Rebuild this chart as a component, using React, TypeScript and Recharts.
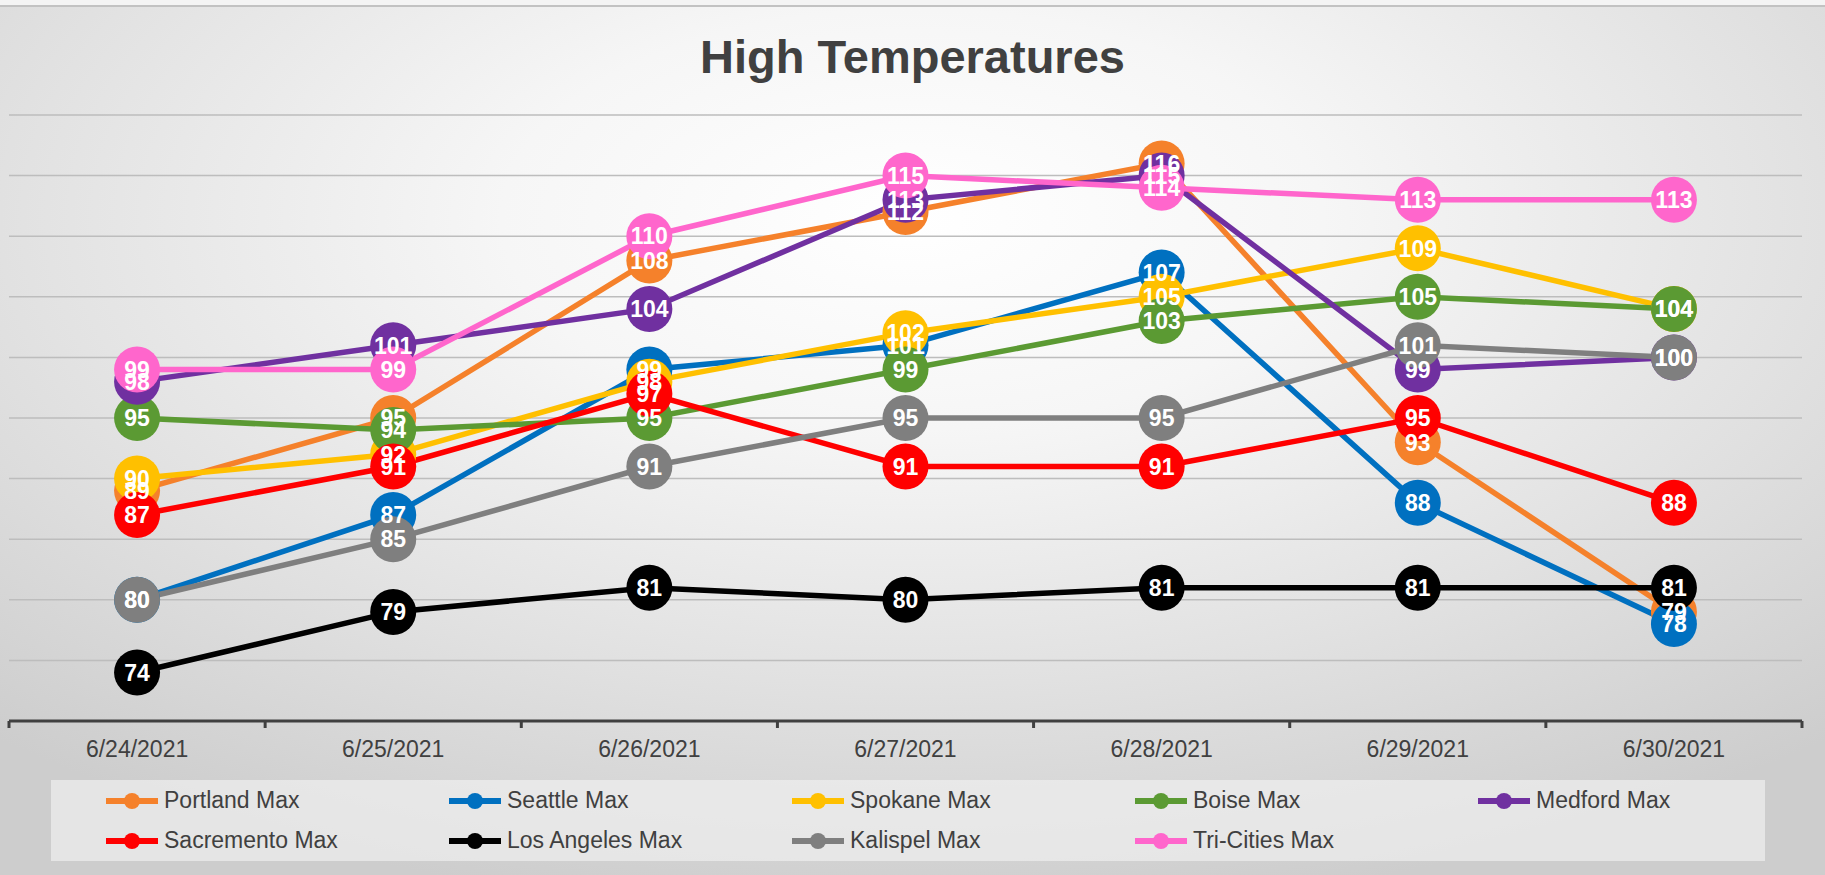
import React from 'react';
import { LineChart, Line, XAxis, YAxis, CartesianGrid, LabelList, Legend } from 'recharts';

const DATES = ['6/24/2021', '6/25/2021', '6/26/2021', '6/27/2021', '6/28/2021', '6/29/2021', '6/30/2021'];
const PORTLAND = [89, 95, 108, 112, 116, 93, 79];
const SEATTLE = [80, 87, 99, 101, 107, 88, 78];
const SPOKANE = [90, 92, 98, 102, 105, 109, 104];
const BOISE = [95, 94, 95, 99, 103, 105, 104];
const MEDFORD = [98, 101, 104, 113, 115, 99, 100];
const SACRAMENTO = [87, 91, 97, 91, 91, 95, 88];
const LOS_ANGELES = [74, 79, 81, 80, 81, 81, 81];
const KALISPEL = [80, 85, 91, 95, 95, 101, 100];
const TRI_CITIES = [99, 99, 110, 115, 114, 113, 113];
const Y_TICKS = [70, 75, 80, 85, 90, 95, 100, 105, 110, 115, 120];
const CENTER_TICKS = [0, 1, 2, 3, 4, 5, 6];
const EDGE_TICKS = [-0.5, 0.5, 1.5, 2.5, 3.5, 4.5, 5.5, 6.5];

const SERIES = [
  { key: 'portland', name: 'Portland Max', color: '#F5812B', values: PORTLAND },
  { key: 'seattle', name: 'Seattle Max', color: '#0070C0', values: SEATTLE },
  { key: 'spokane', name: 'Spokane Max', color: '#FFC000', values: SPOKANE },
  { key: 'boise', name: 'Boise Max', color: '#5B9A33', values: BOISE },
  { key: 'medford', name: 'Medford Max', color: '#7030A0', values: MEDFORD },
  { key: 'sacramento', name: 'Sacremento Max', color: '#FF0000', values: SACRAMENTO },
  { key: 'la', name: 'Los Angeles Max', color: '#000000', values: LOS_ANGELES },
  { key: 'kalispel', name: 'Kalispel Max', color: '#7F7F7F', values: KALISPEL },
  { key: 'tricities', name: 'Tri-Cities Max', color: '#FF66CC', values: TRI_CITIES },
];

const DATA = DATES.map((d, i) => {
  const row: Record<string, any> = { idx: i, date: d };
  SERIES.forEach((s) => {
    row[s.key] = s.values[i];
  });
  return row;
});

const FONT = '"Liberation Sans", Arial, sans-serif';

const renderLabel = (p: any) => (
  <text
    x={p.x}
    y={p.y}
    dy="0.36em"
    textAnchor="middle"
    fill="#ffffff"
    fontSize={23}
    fontWeight="bold"
    fontFamily={FONT}
  >
    {p.value}
  </text>
);

const LegendContent = () => (
  <div
    style={{
      width: '100%',
      height: '100%',
      display: 'grid',
      gridTemplateColumns: 'repeat(5, 343px)',
      gridAutoRows: '40px',
      paddingLeft: 53,
      boxSizing: 'border-box',
      alignContent: 'center',
    }}
  >
    {SERIES.map((s) => (
      <div key={s.key} style={{ display: 'flex', alignItems: 'center', height: 40 }}>
        <svg width={58} height={20} style={{ marginRight: 2 }}>
          <line x1={2} y1={10} x2={54} y2={10} stroke={s.color} strokeWidth={6} />
          <circle cx={28} cy={10} r={8} fill={s.color} />
        </svg>
        <span style={{ fontFamily: FONT, fontSize: 23, color: '#404040', whiteSpace: 'nowrap' }}>{s.name}</span>
      </div>
    ))}
  </div>
);

export default function App() {
  return (
    <div
      style={{
        position: 'absolute',
        top: 0,
        left: 0,
        width: 1825,
        height: 875,
        overflow: 'hidden',
        background:
          'radial-gradient(ellipse 75% 80% at 50% 25%, #ffffff 0%, #f6f6f6 30%, #e2e2e2 65%, #cdcdcd 100%)',
      }}
    >
      <div
        style={{
          position: 'absolute',
          top: 0,
          left: 0,
          width: 1825,
          height: 5,
          background: '#f4f4f4',
          borderBottom: '2px solid #c2c2c2',
        }}
      />
      <div
        style={{
          position: 'absolute',
          top: 33,
          left: 0,
          width: 1825,
          textAlign: 'center',
          fontFamily: FONT,
          fontSize: 47,
          lineHeight: '47px',
          fontWeight: 'bold',
          color: '#404040',
        }}
      >
        High Temperatures
      </div>
      <div style={{ position: 'absolute', top: 0, left: 0 }}>
        <LineChart width={1825} height={875} data={DATA} margin={{ top: 115, right: 23, left: 9, bottom: 96 }}>
          <CartesianGrid vertical={false} stroke="#bdbdbd" strokeWidth={1.5} xAxisId="a" />
          <XAxis
            xAxisId="a"
            dataKey="idx"
            type="number"
            domain={[-0.5, 6.5]}
            allowDataOverflow
            ticks={EDGE_TICKS}
            interval={0}
            tickFormatter={() => ''}
            tickSize={7}
            height={8}
            tickLine={{ stroke: '#404040', strokeWidth: 3 }}
            axisLine={{ stroke: '#404040', strokeWidth: 3 }}
          />
          <XAxis
            xAxisId="b"
            dataKey="idx"
            type="number"
            domain={[-0.5, 6.5]}
            allowDataOverflow
            ticks={CENTER_TICKS}
            interval={0}
            tickFormatter={(v: number) => DATES[v] ?? ''}
            tickSize={0}
            tickMargin={12}
            height={50}
            tickLine={false}
            axisLine={false}
            tick={{ fill: '#404040', fontSize: 23, fontFamily: FONT }}
          />
          <YAxis hide domain={[70, 120]} ticks={Y_TICKS} allowDataOverflow width={0} />
          {SERIES.map((s) => (
            <Line
              key={s.key}
              xAxisId="a"
              dataKey={s.key}
              name={s.name}
              stroke={s.color}
              strokeWidth={5.5}
              dot={{ r: 23, fill: s.color, stroke: 'none', strokeWidth: 0 }}
              activeDot={false}
              isAnimationActive={false}
            />
          ))}
          {SERIES.map((s) => (
            <Line
              key={s.key + '-lbl'}
              xAxisId="b"
              dataKey={s.key}
              stroke="none"
              dot={false}
              activeDot={false}
              legendType="none"
              isAnimationActive={false}
            >
              <LabelList dataKey={s.key} content={renderLabel} />
            </Line>
          ))}
          <Legend
            verticalAlign="middle"
            align="center"
            layout="horizontal"
            content={() => <LegendContent />}
            wrapperStyle={{
              top: 780,
              left: 51,
              width: 1714,
              height: 81,
              background: 'rgba(240,240,240,0.7)',
            }}
          />
        </LineChart>
      </div>
    </div>
  );
}
